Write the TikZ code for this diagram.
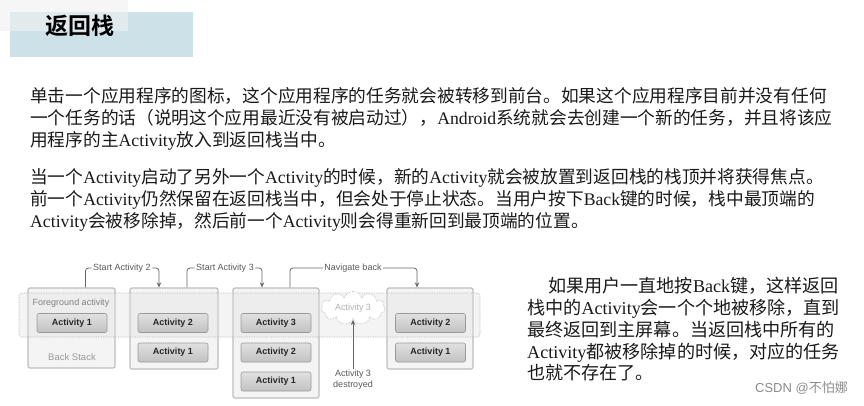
\documentclass[tikz,border=0pt]{standalone}
\usepackage{fontspec}
\setmainfont{Noto Sans CJK SC}[BoldFont={Noto Sans CJK SC Bold}]
\newfontfamily\tms{Liberation Serif}
\newfontfamily\hel{Liberation Sans}
\usetikzlibrary{arrows.meta,shapes.symbols}
\newcommand\lat[1]{{\tms #1}}
\definecolor{titleblue}{HTML}{CCE1E8}
\definecolor{titlegrey}{HTML}{F0F0F0}
\definecolor{bodytext}{HTML}{1A1A1A}
\definecolor{boxline}{HTML}{BEBEBE}
\definecolor{boxfill}{HTML}{F4F4F4}
\definecolor{btnline}{HTML}{9A9A9A}
\definecolor{connline}{HTML}{666666}
\tikzset{
  bodyline/.style={anchor=base west, inner sep=0, text=bodytext, font=\fontsize{17.7}{20}\selectfont},
  rightline/.style={anchor=base west, inner sep=0, text=bodytext, font=\fontsize{18.1}{20}\selectfont},
  stackbox/.style={draw=boxline, line width=1.2pt, fill=boxfill, rounded corners=2pt, inner sep=0},
  actbtn/.style={draw=btnline, line width=0.6pt, rounded corners=2pt, top color=white!88!black, bottom color=white!76!black,
     minimum width=70, minimum height=19, inner sep=0, font=\hel\bfseries\fontsize{9}{10}\selectfont, text=black!85},
  glabel/.style={font=\hel\fontsize{9}{10}\selectfont, text=black!65, fill=white, inner sep=1.5pt},
  conn/.style={draw=connline, line width=0.8pt, rounded corners=3pt},
  arr/.style={-{Stealth[length=5pt,width=4.5pt]}},
}
\begin{document}
\begin{tikzpicture}[x=1pt,y=-1pt]
\useasboundingbox (0,0) rectangle (864,405);
\fill[white] (0,0) rectangle (864,405);
% title
\fill[titleblue] (10,12) rectangle (193,57);
\fill[titlegrey, opacity=0.6] (0,0) rectangle (128,31);
\node[font=\bfseries\fontsize{23}{26}\selectfont, inner sep=0] (title) at (80,26) {返回栈};
% paragraph 1
\node[bodyline] (p1a) at (30,102.5) {单击一个应用程序的图标，这个应用程序的任务就会被转移到前台。如果这个应用程序目前并没有任何};
\node[bodyline] (p1b) at (30,124.8) {一个任务的话（说明这个应用最近没有被启动过），\lat{Android}系统就会去创建一个新的任务，并且将该应};
\node[bodyline] (p1c) at (30,146.5) {用程序的主\lat{Activity}放入到返回栈当中。};
% paragraph 2
\node[bodyline] (p2a) at (30,183.5) {当一个\lat{Activity}启动了另外一个\lat{Activity}的时候，新的\lat{Activity}就会被放置到返回栈的栈顶并将获得焦点。};
\node[bodyline] (p2b) at (30,205.5) {前一个\lat{Activity}仍然保留在返回栈当中，但会处于停止状态。当用户按下\lat{Back}键的时候，栈中最顶端的};
\node[bodyline] (p2c) at (30,227) {\lat{Activity}会被移除掉，然后前一个\lat{Activity}则会得重新回到最顶端的位置。};
% right paragraph
\node[rightline] (r1) at (548,292.5) {如果用户一直地按\lat{Back}键，这样返回};
\node[rightline] (r2) at (527,314) {栈中的\lat{Activity}会一个个地被移除，直到};
\node[rightline] (r3) at (527,336) {最终返回到主屏幕。当返回栈中所有的};
\node[rightline] (r4) at (527,358) {\lat{Activity}都被移除掉的时候，对应的任务};
\node[rightline] (r5) at (527,379) {也就不存在了。};
% watermark
\node[anchor=east, inner sep=0, text=black!45, font=\fontsize{13}{15}\selectfont] (wm) at (848,388) {\hel CSDN @\rmfamily 不怕娜};
% stacks
\node[stackbox, minimum width=87, minimum height=80] (b1) at (71.5,328) {};
\node[stackbox, minimum width=88, minimum height=81] (b2) at (174,328.5) {};
\node[stackbox, minimum width=86, minimum height=110] (b3) at (276,343) {};
\node[stackbox, minimum width=86, minimum height=81] (b4) at (430,328.5) {};
% foreground band
\node[draw=black!30, densely dotted, line width=0.7pt, fill=black!12, fill opacity=0.35, rounded corners=3pt,
      minimum width=461, minimum height=44, inner sep=0] (band) at (249.5,315) {};
\node[font=\hel\fontsize{9}{10}\selectfont, text=black!50, inner sep=0] (fg) at (71,303) {Foreground activity};
\node[font=\hel\fontsize{9.5}{10}\selectfont, text=black!40, inner sep=0] (bs) at (72,357) {Back Stack};
% buttons
\node[actbtn] (a11) at (72,323) {Activity 1};
\node[actbtn] (a22) at (173,323) {Activity 2};
\node[actbtn] (a21) at (173,352.5) {Activity 1};
\node[actbtn] (a33) at (276,323) {Activity 3};
\node[actbtn] (a32) at (276,352.5) {Activity 2};
\node[actbtn] (a31) at (276,381.5) {Activity 1};
\node[actbtn] (a42) at (430.5,323) {Activity 2};
\node[actbtn] (a41) at (430.5,352.5) {Activity 1};
% cloud
\node[cloud, cloud puffs=11, aspect=2.2, draw=black!25, densely dotted, line width=0.7pt, fill=white,
      minimum width=64, minimum height=30, inner sep=0, font=\hel\fontsize{9}{10}\selectfont, text=black!30] (cl) at (353,308) {Activity 3};
% destroyed
\node[font=\hel\fontsize{9}{11}\selectfont, text=black!65, align=center, inner sep=1pt] (dl) at (353,380) {Activity 3\\destroyed};
\draw[conn, arr, draw=black!60] (dl.north) -- (353,320);
% connectors
\node[glabel] (l1) at (122,268) {Start Activity 2};
\node[glabel] (l2) at (225,268) {Start Activity 3};
\node[glabel] (l3) at (353,268) {Navigate back};
\draw[conn] ([xshift=14pt]b1.north) |- (l1.west);
\draw[conn, arr] (l1.east) -| ([xshift=-15pt]b2.north);
\draw[conn] ([xshift=13pt]b2.north) |- (l2.west);
\draw[conn, arr] (l2.east) -| ([xshift=-14pt]b3.north);
\draw[conn] ([xshift=14pt]b3.north) |- (l3.west);
\draw[conn, arr] (l3.east) -| ([xshift=-13pt]b4.north);
\end{tikzpicture}
\end{document}
